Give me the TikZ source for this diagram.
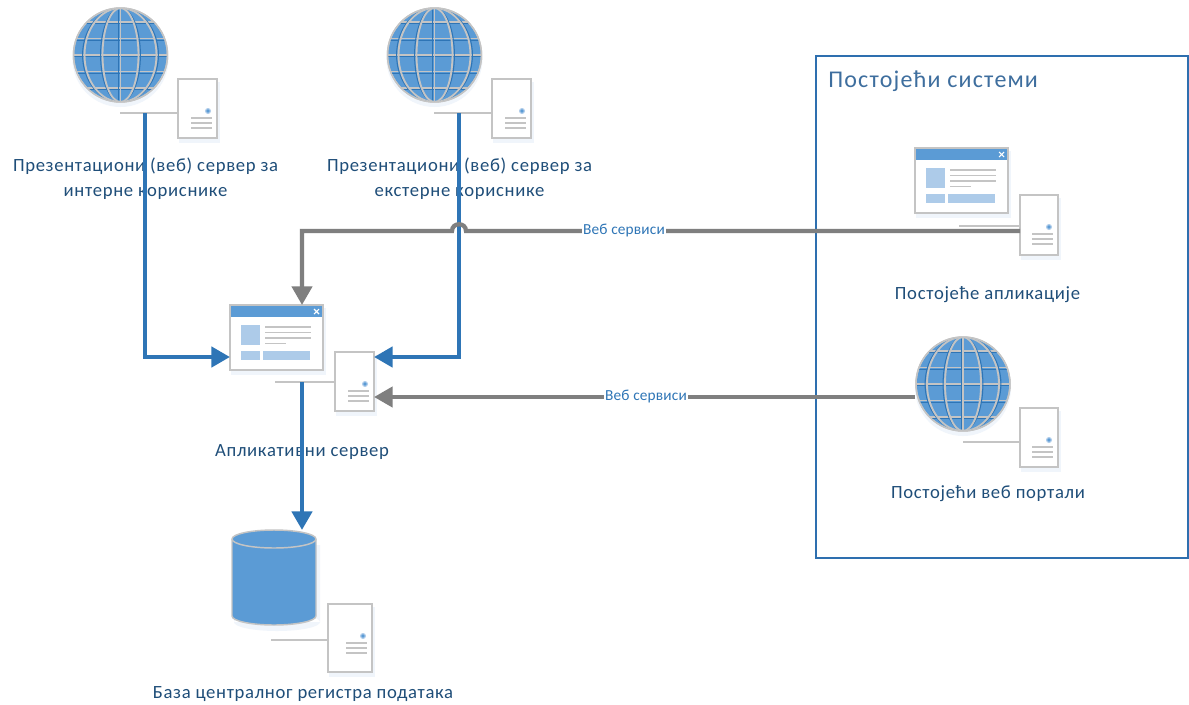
\documentclass[tikz,border=0pt]{standalone}
\usepackage{fontspec}
\setmainfont{Carlito}
\usetikzlibrary{arrows.meta,calc}
\definecolor{gblue}{HTML}{5B9BD5}
\definecolor{gdark}{HTML}{2E75B6}
\definecolor{lblue}{HTML}{ADCBE9}
\definecolor{iconline}{HTML}{C4C4C4}
\definecolor{shadowc}{HTML}{F0F5FB}
\definecolor{txtc}{HTML}{1F4E79}
\definecolor{framec}{HTML}{2E6FAF}
\definecolor{titlec}{HTML}{3E6E9E}
\definecolor{flowblue}{HTML}{2E75B6}
\definecolor{flowgrey}{HTML}{7F7F7F}
\tikzset{
  x=0.75pt,y=-0.75pt,
  srvbox/.style={draw=iconline,line width=1.1pt,fill=white,anchor=north west,inner sep=0pt,outer sep=0pt},
  winbox/.style={draw=iconline,line width=1.1pt,fill=white,anchor=north west,inner sep=0pt,outer sep=0pt},
  thinline/.style={draw=iconline,line width=0.8pt},
  bar/.style={draw=iconline,line width=1.9pt},
  shadow/.style={fill=shadowc,draw=none},
  lbl/.style={text=txtc,align=center,inner sep=0pt,font=\fontsize{14}{18.7}\selectfont\addfontfeature{LetterSpace=3.6}},
  wslbl/.style={text=gdark,fill=white,inner sep=1pt,font=\fontsize{11.5}{12}\selectfont\addfontfeature{LetterSpace=1}},
  blueflow/.style={draw=flowblue,line width=3.4pt,-{Triangle[length=14pt,width=15pt]}},
  greyflow/.style={draw=flowgrey,line width=3.2pt,-{Triangle[length=14pt,width=15pt]}},
}
% #1 name, #2 left, #3 top, #4 width, #5 height, #6 line start x, #7 line y
\newcommand{\srvicon}[7]{%
  \fill[shadow] (#2+1,#3+3) rectangle (#2+#4+3,#3+#5+5);
  \draw[thinline] (#6,#7) -- (#2,#7);
  \node[srvbox,minimum width=#4*0.75pt,minimum height=#5*0.75pt] (#1) at (#2,#3) {};
  \fill[lblue] (#2+#4-9,#3+32) circle (3);
  \fill[gblue] (#2+#4-9,#3+32) circle (1.8);
  \draw[bar] (#2+#4-26,#3+39) -- (#2+#4-5,#3+39);
  \draw[bar] (#2+#4-26,#3+44) -- (#2+#4-5,#3+44);
  \draw[bar] (#2+#4-26,#3+49) -- (#2+#4-5,#3+49);
}
% #1 name, #2 cx, #3 cy
\newcommand{\globeicon}[3]{%
  \fill[shadow] (#2,#3+4) circle (48);
  \node[circle,fill=gblue,draw=iconline,line width=1.1pt,minimum size=70.5pt,inner sep=0pt] (#1) at (#2,#3) {};
  \begin{scope}
    \clip (#2,#3) circle (46.5);
    \foreach \dy in {-33,-16.5,0,16.5,33} {
      \draw[gdark,line width=0.8pt] (#2-50,#3+\dy+1.9) -- (#2+50,#3+\dy+1.9);
      \draw[iconline,line width=1.4pt] (#2-50,#3+\dy) -- (#2+50,#3+\dy);
    }
    \draw[gdark,line width=0.8pt] (#2-1.9,#3-50) -- (#2-1.9,#3+50);
    \draw[iconline,line width=1.4pt] (#2,#3-50) -- (#2,#3+50);
    \foreach \rx in {18,36} {
      \draw[gdark,line width=0.8pt] (#2,#3) ellipse [x radius=\rx+1.9,y radius=47];
      \draw[iconline,line width=1.4pt] (#2,#3) ellipse [x radius=\rx,y radius=47];
    }
  \end{scope}
  \draw[iconline,line width=1.1pt] (#2,#3) circle (47);
}
% #1 name, #2 left, #3 top
\newcommand{\winicon}[3]{%
  \fill[shadow] (#2+1,#3+3) rectangle (#2+96,#3+70);
  \node[winbox,minimum width=69.75pt,minimum height=48.75pt] (#1) at (#2,#3) {};
  \fill[gblue] (#2+1,#3+1) rectangle (#2+92,#3+12);
  \draw[white,line width=0.8pt] (#2+84,#3+4) -- (#2+89,#3+9) (#2+89,#3+4) -- (#2+84,#3+9);
  \fill[lblue] (#2+11,#3+20) rectangle (#2+30,#3+40);
  \fill[lblue] (#2+11,#3+46) rectangle (#2+30,#3+55);
  \fill[lblue] (#2+33,#3+46) rectangle (#2+80,#3+55);
  \draw[iconline,line width=1pt] (#2+35,#3+22) -- (#2+81,#3+22);
  \draw[iconline,line width=1pt] (#2+35,#3+27.5) -- (#2+81,#3+27.5);
  \draw[iconline,line width=1pt] (#2+35,#3+33) -- (#2+81,#3+33);
  \draw[iconline,line width=1pt] (#2+35,#3+38.5) -- (#2+56,#3+38.5);
}
\begin{document}
\begin{tikzpicture}
\useasboundingbox (0,0) rectangle (1189,704);
\fill[white] (0,0) rectangle (1189,704);

% frame of the existing systems
\node[draw=framec,line width=1.2pt,anchor=north west,inner sep=0pt,minimum width=279pt,minimum height=376.5pt] (frame) at (815,55) {};
\node[anchor=west,text=titlec,inner sep=0pt,font=\fontsize{18}{20}\selectfont\addfontfeature{LetterSpace=5}] (frametitle) at (828,81) {Постојећи системи};

% icons
\globeicon{g1}{120.5}{55}
\srvicon{s1}{178}{79}{39}{59}{120}{113}
\globeicon{g2}{434.5}{55}
\srvicon{s2}{492}{79}{39}{59}{434}{113}
\winicon{appwin}{230}{305}
\srvicon{appsrv}{335}{352}{39}{59}{275}{382}
\winicon{exwin}{915}{148}
\srvicon{exsrv}{1020}{195}{38}{60}{959}{226}
\globeicon{g3}{963}{384}
\srvicon{portsrv}{1020}{408}{38}{59}{963}{442}

% database
\coordinate (dbtop) at (274,530);
\fill[shadow] (234,545) rectangle (320,622) (277,622) ellipse [x radius=43,y radius=9];
\draw[fill=gblue,draw=iconline,line width=1.1pt] (232,539) -- (232,616) arc [start angle=180,end angle=0,x radius=42,y radius=9] -- (316,539) arc [start angle=0,end angle=-180,x radius=42,y radius=9] -- cycle;
\draw[iconline,line width=1.1pt] (232,539) arc [start angle=180,end angle=0,x radius=42,y radius=9];
\srvicon{dbsrv}{328}{604}{44}{68}{271}{640}

% labels
\node[lbl] (l1) at (145.5,178.5) {Презентациони (веб) сервер за\\интерне кориснике};
\node[lbl] (l2) at (459.5,178.5) {Презентациони (веб) сервер за\\екстерне кориснике};
\node[lbl] (l3) at (302,452) {Апликативни сервер};
\node[lbl] (l4) at (987.5,295) {Постојеће апликације};
\node[lbl] (l5) at (988,494) {Постојећи веб портали};
\node[lbl] (l6) at (303,694) {База централног регистра података};

% named connector points
\coordinate (b1) at (145,113);
\coordinate (b1k) at (145,357);
\coordinate (b2) at (459,113);
\coordinate (b2k) at (459,357);
\coordinate (b3) at (302,382);
\coordinate (gy) at (0,231);
\coordinate (jr) at (466,231);
\coordinate (jl) at (452,231);
\coordinate (gk) at (302,231);
\coordinate (py) at (0,397);

% blue connectors
\draw[blueflow] (b1) -- (b1k) -- (appwin.west |- b1k);
\draw[blueflow] (b2) -- (b2k) -- (appsrv.east |- b2k);
\draw[blueflow] (b3) -- (b3 |- dbtop);

% grey connectors
\draw[greyflow] (exsrv.west |- gy) -- (jr) .. controls (466,222) and (452,222) .. (jl) -- (gk) -- (gk |- appwin.north);
\draw[greyflow] (g3.west |- py) -- (appsrv.east |- py);
\node[wslbl] (w1) at (624,231) {Веб сервиси};
\node[wslbl] (w2) at (646,397) {Веб сервиси};
\end{tikzpicture}
\end{document}
